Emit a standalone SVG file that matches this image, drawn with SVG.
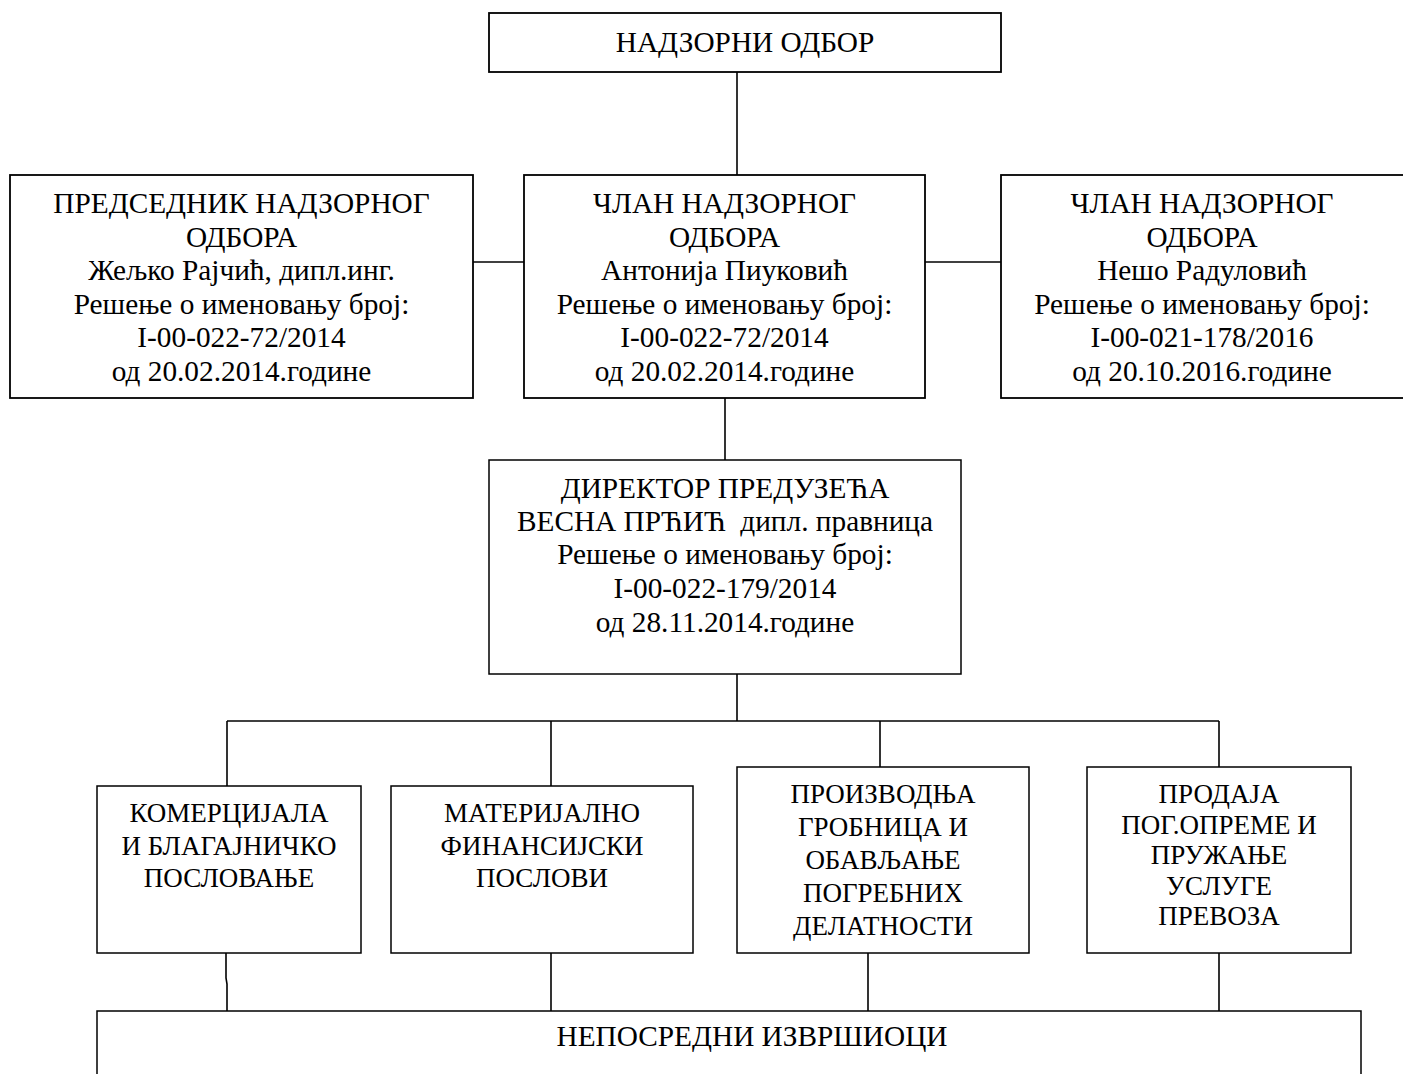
<svg xmlns="http://www.w3.org/2000/svg" width="1403" height="1074" viewBox="0 0 1403 1074">
<style>
.box{fill:#fff;stroke:#000;stroke-width:1.8}
.sbox{fill:#fff;stroke:#000;stroke-width:1.5}
.ln{fill:none;stroke:#000;stroke-width:1.6}
text{font-family:"Liberation Serif","Times New Roman",serif;fill:#000;text-anchor:middle}
.t{font-size:29.3px}
.s{font-size:27px}
</style>
<rect width="1403" height="1074" fill="#fff"/>
<g id="connectors">
<path class="ln" d="M737,72 V175"/>
<path class="ln" d="M473,262 H524"/>
<path class="ln" d="M925,262 H1001"/>
<path class="ln" d="M725,398 V460"/>
<path class="ln" d="M737,674 V721"/>
<path class="ln" d="M227,721 H1219"/>
<path class="ln" d="M227,721 V786"/>
<path class="ln" d="M551,721 V786"/>
<path class="ln" d="M880,721 V767"/>
<path class="ln" d="M1219,721 V767"/>
<path class="ln" d="M226,953 V978 L227,984 V1012"/>
<path class="ln" d="M551,953 V1012"/>
<path class="ln" d="M868,953 V1012"/>
<path class="ln" d="M1219,953 V1012"/>
</g>
<g id="nadzorni-odbor">
<rect class="box" x="489" y="13" width="512" height="59"/>
<text class="t" x="745" y="52">НАДЗОРНИ ОДБОР</text>
</g>
<g id="predsednik">
<rect class="box" x="10" y="175" width="463" height="223"/>
<text class="t" x="241.5"><tspan x="241.5" y="212.5">ПРЕДСЕДНИК НАДЗОРНОГ</tspan><tspan x="241.5" y="246.5">ОДБОРА</tspan><tspan x="241.5" y="280">Жељко Рајчић, дипл.инг.</tspan><tspan x="241.5" y="313.5">Решење о именовању број:</tspan><tspan x="241.5" y="347">I-00-022-72/2014</tspan><tspan x="241.5" y="381">од 20.02.2014.године</tspan></text>
</g>
<g id="clan-1">
<rect class="box" x="524" y="175" width="401" height="223"/>
<text class="t" x="724.5"><tspan x="724.5" y="212.5">ЧЛАН НАДЗОРНОГ</tspan><tspan x="724.5" y="246.5">ОДБОРА</tspan><tspan x="724.5" y="280">Антонија Пиуковић</tspan><tspan x="724.5" y="313.5">Решење о именовању број:</tspan><tspan x="724.5" y="347">I-00-022-72/2014</tspan><tspan x="724.5" y="381">од 20.02.2014.године</tspan></text>
</g>
<g id="clan-2">
<rect class="box" x="1001" y="175" width="430" height="223"/>
<text class="t" x="1202"><tspan x="1202" y="212.5">ЧЛАН НАДЗОРНОГ</tspan><tspan x="1202" y="246.5">ОДБОРА</tspan><tspan x="1202" y="280">Нешо Радуловић</tspan><tspan x="1202" y="313.5">Решење о именовању број:</tspan><tspan x="1202" y="347">I-00-021-178/2016</tspan><tspan x="1202" y="381">од 20.10.2016.године</tspan></text>
</g>
<g id="direktor">
<rect class="sbox" x="489" y="460" width="472" height="214"/>
<text class="t" x="725"><tspan x="725" y="498">ДИРЕКТОР ПРЕДУЗЕЋА</tspan><tspan x="725" y="531" xml:space="preserve">ВЕСНА ПРЋИЋ  дипл. правница</tspan><tspan x="725" y="564">Решење о именовању број:</tspan><tspan x="725" y="598">I-00-022-179/2014</tspan><tspan x="725" y="632">од 28.11.2014.године</tspan></text>
</g>
<g id="komercijala">
<rect class="sbox" x="97" y="786" width="264" height="167"/>
<text class="s" x="229"><tspan x="229" y="822">КОМЕРЦИЈАЛА</tspan><tspan x="229" y="854.5">И БЛАГАЈНИЧКО</tspan><tspan x="229" y="887">ПОСЛОВАЊЕ</tspan></text>
</g>
<g id="materijalno">
<rect class="sbox" x="391" y="786" width="302" height="167"/>
<text class="s" x="542"><tspan x="542" y="822">МАТЕРИЈАЛНО</tspan><tspan x="542" y="854.5">ФИНАНСИЈСКИ</tspan><tspan x="542" y="887">ПОСЛОВИ</tspan></text>
</g>
<g id="proizvodnja">
<rect class="sbox" x="737" y="767" width="292" height="186"/>
<text class="s" x="883"><tspan x="883" y="803">ПРОИЗВОДЊА</tspan><tspan x="883" y="836">ГРОБНИЦА И</tspan><tspan x="883" y="869">ОБАВЉАЊЕ</tspan><tspan x="883" y="902">ПОГРЕБНИХ</tspan><tspan x="883" y="935">ДЕЛАТНОСТИ</tspan></text>
</g>
<g id="prodaja">
<rect class="sbox" x="1087" y="767" width="264" height="186"/>
<text class="s" x="1219"><tspan x="1219" y="803">ПРОДАЈА</tspan><tspan x="1219" y="833.5">ПОГ.ОПРЕМЕ И</tspan><tspan x="1219" y="864">ПРУЖАЊЕ</tspan><tspan x="1219" y="894.5">УСЛУГЕ</tspan><tspan x="1219" y="925">ПРЕВОЗА</tspan></text>
</g>
<g id="neposredni">
<rect class="sbox" x="97" y="1011" width="1264" height="90"/>
<text class="t" x="752" y="1046">НЕПОСРЕДНИ ИЗВРШИОЦИ</text>
</g>
</svg>
